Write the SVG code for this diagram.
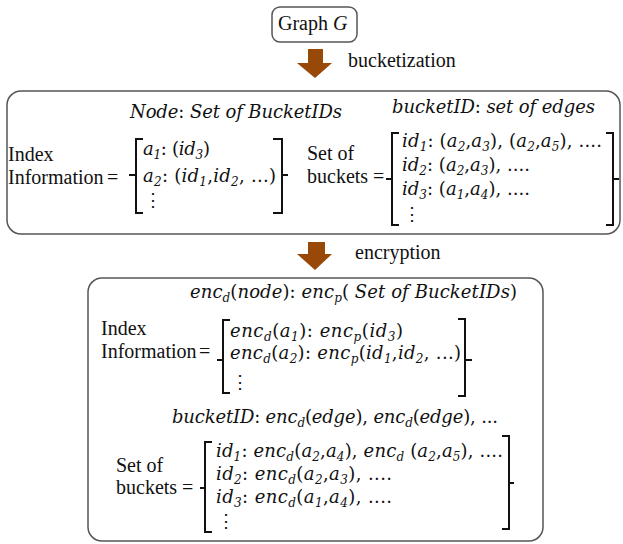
<svg xmlns="http://www.w3.org/2000/svg" width="623" height="544" viewBox="0 0 623 544">
<style>
.box{fill:#fff;stroke:#555;stroke-width:1.5}
.br{fill:none;stroke:#111;stroke-width:2}
.arr{fill:#984807}
.t{font-family:"Liberation Serif","Times New Roman",serif;font-size:20px;fill:#111}
.m{font-family:"DejaVu Serif",serif;font-style:italic;font-size:18px;fill:#111}
.u{font-style:normal}
.s{font-size:12px}
</style>
<rect width="623" height="544" fill="#fff"/>
<g id="graph">
<rect class="box" x="272" y="7" width="85" height="35" rx="8" stroke-width="1.2"/>
<text class="t" x="278" y="30">Graph <tspan font-style="italic">G</tspan></text>
</g>
<g id="connectors">
<path class="arr" d="M308,49 H323 V63 H332 L315,78 L297,63 H308 Z"/>
<text class="t" x="348" y="67">bucketization</text>
<path class="arr" d="M308,242 H325 V254 H332 L315,270 L297,254 H308 Z"/>
<text class="t" x="355" y="259">encryption</text>
</g>
<g id="bucketized">
<rect class="box" x="7" y="91" width="613" height="143" rx="14"/>
<text class="m" x="130" y="118" textLength="212">Node<tspan class="u">:</tspan> Set of BucketIDs</text>
<text class="m" x="392" y="113" textLength="203">bucketID<tspan class="u">:</tspan> set of edges</text>
<text class="t" x="8" y="161">Index</text>
<text class="t" x="8" y="184">Information</text>
<text class="t" x="107" y="184">=</text>
<path class="br" d="M143,139 H136 V213 H143 M129,175 H136"/>
<path class="br" d="M273,139 H282 V213 H273 M282,175 H288"/>
<text class="m" x="143" y="155" textLength="67">a<tspan class="s" dy="4">1</tspan><tspan class="u" dy="-4">: (</tspan>id<tspan class="s" dy="4">3</tspan><tspan class="u" dy="-4">)</tspan></text>
<text class="m" x="143" y="182" textLength="133">a<tspan class="s" dy="4">2</tspan><tspan class="u" dy="-4">: (</tspan>id<tspan class="s" dy="4">1</tspan><tspan class="u" dy="-4">,</tspan>id<tspan class="s" dy="4">2</tspan><tspan class="u" dy="-4">, ...)</tspan></text>
<text class="m u" x="144" y="206">⋮</text>
<text class="t" x="307" y="160">Set of</text>
<text class="t" x="307" y="183">buckets</text>
<text class="t" x="373" y="183">=</text>
<path class="br" d="M399,133 H392 V225 H399 M386,179 H392"/>
<path class="br" d="M606,133 H613 V225 H606 M613,179 H619"/>
<text class="m" x="402" y="147" textLength="200">id<tspan class="s" dy="4">1</tspan><tspan class="u" dy="-4">: (</tspan>a<tspan class="s" dy="4">2</tspan><tspan class="u" dy="-4">,</tspan>a<tspan class="s" dy="4">3</tspan><tspan class="u" dy="-4">), (</tspan>a<tspan class="s" dy="4">2</tspan><tspan class="u" dy="-4">,</tspan>a<tspan class="s" dy="4">5</tspan><tspan class="u" dy="-4">), ....</tspan></text>
<text class="m" x="402" y="171" textLength="128">id<tspan class="s" dy="4">2</tspan><tspan class="u" dy="-4">: (</tspan>a<tspan class="s" dy="4">2</tspan><tspan class="u" dy="-4">,</tspan>a<tspan class="s" dy="4">3</tspan><tspan class="u" dy="-4">), ....</tspan></text>
<text class="m" x="402" y="195" textLength="128">id<tspan class="s" dy="4">3</tspan><tspan class="u" dy="-4">: (</tspan>a<tspan class="s" dy="4">1</tspan><tspan class="u" dy="-4">,</tspan>a<tspan class="s" dy="4">4</tspan><tspan class="u" dy="-4">), ....</tspan></text>
<text class="m u" x="403" y="220">⋮</text>
</g>
<g id="encrypted">
<rect class="box" x="88" y="278" width="455" height="263" rx="14"/>
<text class="m" x="190" y="298" textLength="327">enc<tspan class="s" dy="4">d</tspan><tspan class="u" dy="-4">(</tspan>node<tspan class="u">):</tspan> enc<tspan class="s" dy="4">p</tspan><tspan class="u" dy="-4">( </tspan>Set of BucketIDs<tspan class="u">)</tspan></text>
<text class="t" x="101" y="335">Index</text>
<text class="t" x="101" y="358">Information</text>
<text class="t" x="199" y="358">=</text>
<path class="br" d="M230,320 H223 V393 H230 M217,360 H223"/>
<path class="br" d="M458,319 H465 V396 H458 M465,360 H472"/>
<text class="m" x="230" y="337" textLength="173">enc<tspan class="s" dy="4">d</tspan><tspan class="u" dy="-4">(</tspan>a<tspan class="s" dy="4">1</tspan><tspan class="u" dy="-4">):</tspan> enc<tspan class="s" dy="4">p</tspan><tspan class="u" dy="-4">(</tspan>id<tspan class="s" dy="4">3</tspan><tspan class="u" dy="-4">)</tspan></text>
<text class="m" x="230" y="359" textLength="231">enc<tspan class="s" dy="4">d</tspan><tspan class="u" dy="-4">(</tspan>a<tspan class="s" dy="4">2</tspan><tspan class="u" dy="-4">):</tspan> enc<tspan class="s" dy="4">p</tspan><tspan class="u" dy="-4">(</tspan>id<tspan class="s" dy="4">1</tspan><tspan class="u" dy="-4">,</tspan>id<tspan class="s" dy="4">2</tspan><tspan class="u" dy="-4">, ...)</tspan></text>
<text class="m u" x="231" y="388">⋮</text>
<text class="m" x="172" y="423" textLength="326">bucketID<tspan class="u">:</tspan> enc<tspan class="s" dy="4">d</tspan><tspan class="u" dy="-4">(</tspan>edge<tspan class="u">),</tspan> enc<tspan class="s" dy="4">d</tspan><tspan class="u" dy="-4">(</tspan>edge<tspan class="u">), ...</tspan></text>
<text class="t" x="116" y="472">Set of</text>
<text class="t" x="116" y="494">buckets</text>
<text class="t" x="182" y="494">=</text>
<path class="br" d="M212,442 H205 V532 H212 M200,488 H205"/>
<path class="br" d="M502,436 H509 V529 H502 M509,483 H514"/>
<text class="m" x="216" y="457" textLength="287">id<tspan class="s" dy="4">1</tspan><tspan class="u" dy="-4">:</tspan> enc<tspan class="s" dy="4">d</tspan><tspan class="u" dy="-4">(</tspan>a<tspan class="s" dy="4">2</tspan><tspan class="u" dy="-4">,</tspan>a<tspan class="s" dy="4">4</tspan><tspan class="u" dy="-4">),</tspan> enc<tspan class="s" dy="4">d</tspan><tspan class="u" dy="-4"> (</tspan>a<tspan class="s" dy="4">2</tspan><tspan class="u" dy="-4">,</tspan>a<tspan class="s" dy="4">5</tspan><tspan class="u" dy="-4">), ....</tspan></text>
<text class="m" x="216" y="480" textLength="176">id<tspan class="s" dy="4">2</tspan><tspan class="u" dy="-4">:</tspan> enc<tspan class="s" dy="4">d</tspan><tspan class="u" dy="-4">(</tspan>a<tspan class="s" dy="4">2</tspan><tspan class="u" dy="-4">,</tspan>a<tspan class="s" dy="4">3</tspan><tspan class="u" dy="-4">), ....</tspan></text>
<text class="m" x="216" y="503" textLength="176">id<tspan class="s" dy="4">3</tspan><tspan class="u" dy="-4">:</tspan> enc<tspan class="s" dy="4">d</tspan><tspan class="u" dy="-4">(</tspan>a<tspan class="s" dy="4">1</tspan><tspan class="u" dy="-4">,</tspan>a<tspan class="s" dy="4">4</tspan><tspan class="u" dy="-4">), ....</tspan></text>
<text class="m u" x="217" y="527">⋮</text>
</g>
</svg>
